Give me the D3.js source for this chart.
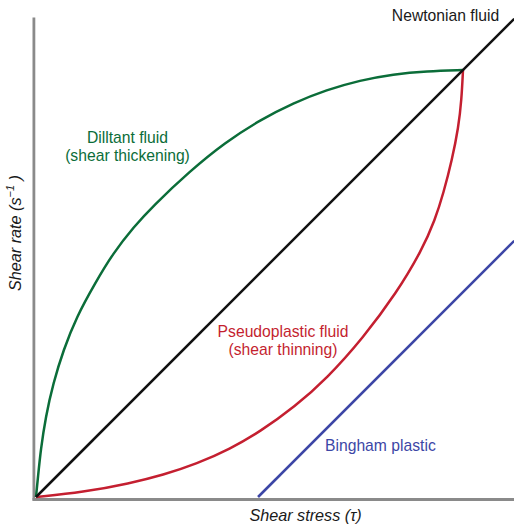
<!DOCTYPE html>
<html>
<head>
<meta charset="utf-8">
<script src="https://cdn.jsdelivr.net/npm/d3@7"></script>
<style>
  html, body { margin: 0; padding: 0; background: #fff; }
  svg { display: block; }
  text { font-family: "Liberation Sans", Arial, Helvetica, sans-serif; }
</style>
</head>
<body>
<svg id="chart" width="514" height="527"></svg>
<script>
// Flow curves: shear rate vs shear stress (normalised units, 1 = crossing point)
const newtonian = [[0, 0], [1.12, 1.12]];
const dilatant = [
  [0, 0], [0.0047, 0.0475], [0.0110, 0.1101], [0.0227, 0.1881], [0.0403, 0.2663],
  [0.0642, 0.3443], [0.0951, 0.4222], [0.1382, 0.5005], [0.1803, 0.5707],
  [0.2295, 0.6330], [0.2724, 0.6799], [0.3607, 0.7635], [0.4426, 0.8302],
  [0.5246, 0.8829], [0.6026, 0.9227], [0.6808, 0.9536], [0.7588, 0.9759],
  [0.8368, 0.9902], [0.9150, 0.9974], [1, 1]
];
const pseudoplastic = [
  [0, 0], [0.1101, 0.0110], [0.2201, 0.0321], [0.2974, 0.0515], [0.3770, 0.0780],
  [0.4543, 0.1126], [0.5246, 0.1529], [0.6066, 0.2119], [0.6815, 0.2780],
  [0.7658, 0.3724], [0.8443, 0.4778], [0.9040, 0.5785], [0.9344, 0.6487],
  [0.9543, 0.7119], [0.9742, 0.7892], [0.9895, 0.8665], [0.9965, 0.9297], [1, 1]
];
const bingham = [[0.52, 0], [1.12, 0.60]];

const seriesNames = ["Newtonian fluid", "Dilltant fluid", "Pseudoplastic fluid", "Bingham plastic"];
const seriesNotes = ["", "(shear thickening)", "(shear thinning)", ""];

const svg = d3.select("#chart");

const x = d3.scaleLinear().domain([0, 1]).range([36, 463]);
const y = d3.scaleLinear().domain([0, 1]).range([497, 70]);

// Axis frames (no ticks)
const xAxisScale = d3.scaleLinear().domain([0, 1]).range([32, 514]);
const yAxisScale = d3.scaleLinear().domain([0, 1]).range([500, 17]);

svg.append("g")
  .attr("transform", "translate(0,499)")
  .call(d3.axisBottom(xAxisScale).ticks(0).tickSizeOuter(0))
  .call(g => g.select(".domain").attr("stroke", "#8a8a8a").attr("stroke-width", 2.8));

svg.append("g")
  .attr("transform", "translate(33.4,0)")
  .call(d3.axisLeft(yAxisScale).ticks(0).tickSizeOuter(0))
  .call(g => g.select(".domain").attr("stroke", "#8a8a8a").attr("stroke-width", 2.8));

// B-spline through the sampled readings keeps the curves smooth
const line = d3.line()
  .x(d => x(d[0]))
  .y(d => y(d[1]))
  .curve(d3.curveBasis);

const lines = [
  { data: bingham, color: "#3c46a6" },
  { data: pseudoplastic, color: "#c41f30" },
  { data: dilatant, color: "#0b6d39" },
  { data: newtonian, color: "#111111" }
];

svg.append("g").selectAll("path")
  .data(lines)
  .join("path")
  .attr("d", d => line(d.data))
  .attr("fill", "none")
  .attr("stroke", d => d.color)
  .attr("stroke-width", 2.5)
  .attr("stroke-linecap", "butt");

// Curve labels
const labels = [
  { lines: [seriesNames[0]], x: 445.5, y: 21, color: "#1a1a1a", anchor: "middle" },
  { lines: [seriesNames[1], seriesNotes[1]], x: 127.5, y: 143, color: "#0b6d39", anchor: "middle" },
  { lines: [seriesNames[2], seriesNotes[2]], x: 283, y: 337, color: "#c41f30", anchor: "middle" },
  { lines: [seriesNames[3]], x: 325, y: 451, color: "#3c46a6", anchor: "start" }
];

labels.forEach(l => {
  const t = svg.append("text")
    .attr("x", l.x)
    .attr("y", l.y)
    .attr("fill", l.color)
    .attr("font-size", 15.7)
    .attr("text-anchor", l.anchor);
  l.lines.forEach((s, i) => {
    t.append("tspan")
      .attr("x", l.x)
      .attr("dy", i === 0 ? 0 : 18)
      .text(s);
  });
});

// Axis titles
svg.append("text")
  .attr("x", 305.5)
  .attr("y", 521)
  .attr("text-anchor", "middle")
  .attr("font-size", 16.2)
  .attr("font-style", "italic")
  .attr("fill", "#1a1a1a")
  .text("Shear stress (τ)");

const yTitle = svg.append("text")
  .attr("transform", "translate(20.5,233) rotate(-90)")
  .attr("text-anchor", "middle")
  .attr("font-size", 16.2)
  .attr("font-style", "italic")
  .attr("fill", "#1a1a1a");
yTitle.append("tspan").text("Shear rate (s");
yTitle.append("tspan").attr("dy", -6.5).attr("font-size", 11).text("−1");
yTitle.append("tspan").attr("dy", 6.5).text(" )");
</script>
</body>
</html>
